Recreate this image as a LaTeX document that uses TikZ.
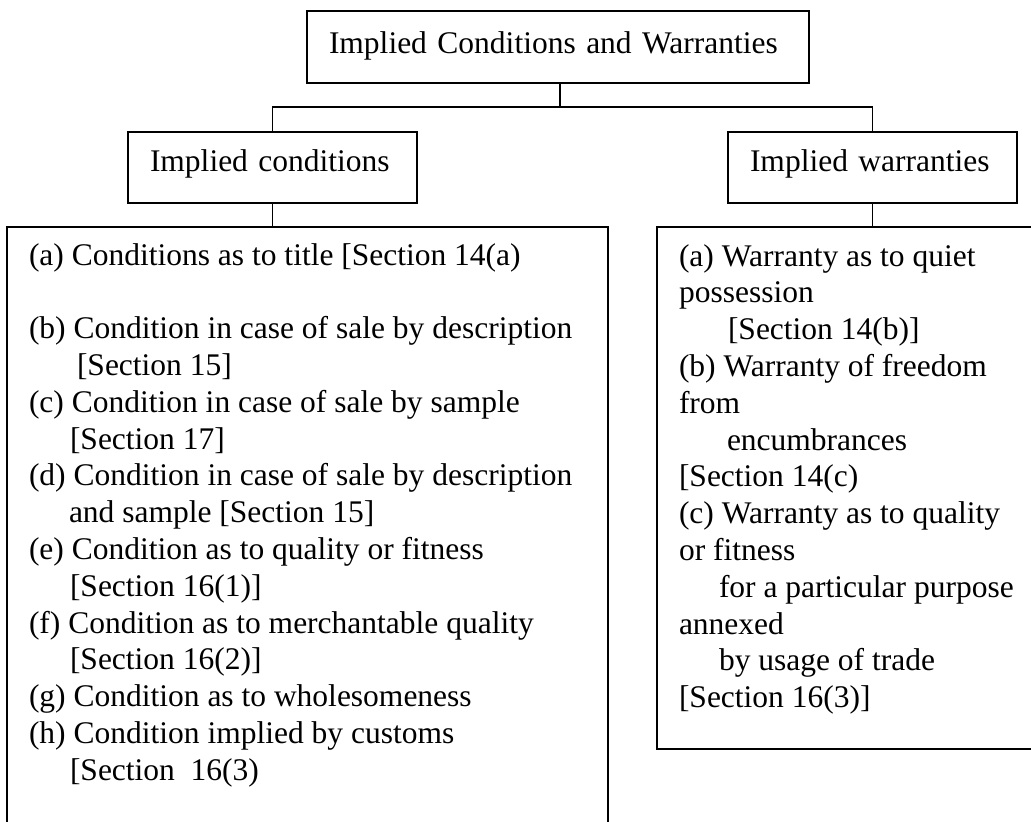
\documentclass[tikz,border=0pt]{standalone}
\usepackage{fontspec}
\setmainfont{Liberation Serif}
\begin{document}
\begin{tikzpicture}[x=1pt,y=-1pt,
  every node/.style={inner sep=0pt, outer sep=0pt},
  frame/.style={draw=black, line width=1.3pt},
  link/.style={draw=black, line width=1.3pt},
  headbox/.style={frame, anchor=north west, align=left,
    font=\fontsize{31.5}{37}\selectfont, inner xsep=22pt, inner ysep=0pt,
    text height=20pt},
  listtext/.style={anchor=north west, align=left,
    font=\fontsize{31.5}{36.8}\selectfont}]
\useasboundingbox (0,0) rectangle (1031,822);
\clip (0,0) rectangle (1031,822);

% heading boxes
\node[headbox, text width=458pt, inner xsep=22pt, minimum height=72pt, text depth=8pt] (top) at (307,11)
  {Implied Conditions and Warranties};
\node[headbox, text width=245pt, minimum height=71pt, text depth=11.6pt] (cond) at (128,132)
  {Implied conditions};
\node[headbox, text width=245pt, minimum height=71pt, text depth=11.6pt] (warr) at (728,132)
  {Implied warranties};

% list frames
\node[frame, anchor=north west, minimum width=601pt, minimum height=640pt] (condbox) at (7,227) {};
\node[frame, anchor=north west, minimum width=382pt, minimum height=522pt] (warrbox) at (657,227) {};

% tree connectors
\coordinate (junction) at (560,107);
\draw[link] (top.south -| junction) -- (junction);
\draw[link] (cond.north) -- (cond.north |- junction) -- (warr.north |- junction) -- (warr.north);
\draw[link] (cond.south) -- (cond.south |- condbox.north);
\draw[link] (warr.south) -- (warr.south |- warrbox.north);

% list of implied conditions
\node[listtext] (condlist) at (29,241) {\rule{0pt}{24pt}(a) Conditions as to title {[}Section 14(a)\\
\mbox{}\\
(b) Condition in case of sale by description\\
\hspace*{48pt}{[}Section 15]\\
(c) Condition in case of sale by sample\\
\hspace*{41pt}{[}Section 17]\\
(d) Condition in case of sale by description\\
\hspace*{40pt}and sample {[}Section 15]\\
(e) Condition as to quality or fitness\\
\hspace*{41pt}{[}Section 16(1)]\\
(f) Condition as to merchantable quality\\
\hspace*{41pt}{[}Section 16(2)]\\
(g) Condition as to wholesomeness\\
(h) Condition implied by customs\\
\hspace*{41pt}{[}Section\ \ 16(3)};

% list of implied warranties
\node[listtext] (warrlist) at (679,242) {\rule{0pt}{24pt}(a) Warranty as to quiet\\
possession\\
\hspace*{49pt}{[}Section 14(b)]\\
(b) Warranty of freedom\\
from\\
\hspace*{48pt}encumbrances\\
{[}Section 14(c)\\
(c) Warranty as to quality\\
or fitness\\
\hspace*{40pt}for a particular purpose\\
annexed\\
\hspace*{40pt}by usage of trade\\
{[}Section 16(3)]};
\end{tikzpicture}
\end{document}
